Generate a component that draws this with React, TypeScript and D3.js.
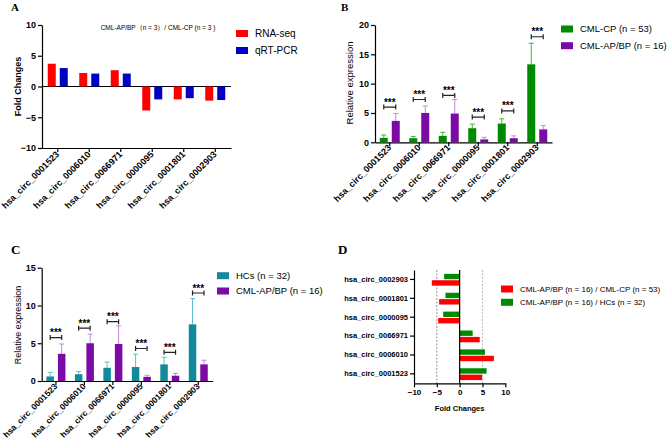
import * as d3 from "d3";
import React, { useEffect, useRef } from "react";

// circRNA names (left-to-right in A/B/C, bottom-to-top in D)
const circs = [
  "hsa_circ_0001523",
  "hsa_circ_0006010",
  "hsa_circ_0066971",
  "hsa_circ_0000095",
  "hsa_circ_0001801",
  "hsa_circ_0002903",
];

// A: fold changes
const rnaSeq = [3.7, 2.2, 2.65, -3.9, -2.1, -2.3];
const qrtPcr = [3.0, 2.1, 2.1, -2.1, -1.9, -2.2];
const foldTicks = [-10, -5, 0, 5, 10];

// B: CML-CP vs CML-AP/BP
const cpMean = [0.75, 0.7, 1.1, 2.4, 3.2, 13.3];
const cpSd = [0.5, 0.3, 0.6, 0.7, 0.8, 3.6];
const apMeanB = [3.65, 5.0, 4.9, 0.5, 0.7, 2.2];
const apSdB = [1.25, 1.2, 2.4, 0.35, 0.4, 0.65];
const bracketB = [6.0, 7.3, 8.0, 4.3, 5.35, 18.0];
const ticksB = [0, 5, 10, 15, 20];

// C: HCs vs CML-AP/BP
const hcMean = [0.6, 0.9, 1.75, 1.85, 2.2, 7.5];
const hcSd = [0.55, 0.35, 0.75, 1.7, 0.95, 3.4];
const apMeanC = [3.6, 5.0, 4.9, 0.55, 0.7, 2.2];
const apSdC = [1.3, 1.2, 2.4, 0.2, 0.3, 0.55];
const bracketC = [5.75, 7.0, 7.85, 4.3, 3.8, 11.65];
const ticksC = [0, 5, 10, 15];

// D: fold changes, horizontal
const vsCp = [4.9, 7.5, 4.4, -4.7, -4.5, -6.1];
const vsHc = [5.9, 5.55, 2.85, -3.6, -3.1, -3.4];
const ticksD = [-10, -5, 0, 5, 10];

const SANS = "'Liberation Sans', Arial, sans-serif";
const SERIF = "'Liberation Serif', 'Times New Roman', serif";

const RED = "#ff0000";
const BLUE = "#0000c4";
const GREEN = "#008a00";
const GREEN_ERR = "#3cb83c";
const PURPLE = "#7c0aa4";
const PURPLE_ERR = "#c584e6";
const TEAL = "#14899c";
const TEAL_ERR = "#5bbfcf";

const styleAxis = (g, fontSize, bold = true) => {
  g.selectAll("path, line").attr("stroke", "#000").attr("stroke-width", 1.2);
  g.selectAll("text")
    .attr("fill", "#000")
    .style("font-family", SANS)
    .style("font-size", fontSize + "px")
    .style("font-weight", bold ? "bold" : "normal");
};

// 45° category labels ending just under each tick
const rotatedLabels = (svg, x, yPos, size) => {
  svg
    .append("g")
    .selectAll("text")
    .data(circs)
    .enter()
    .append("text")
    .attr("transform", (d) => `translate(${x(d) + x.bandwidth() / 2 + 2},${yPos}) rotate(-45)`)
    .attr("text-anchor", "end")
    .style("font-family", SANS)
    .style("font-size", size + "px")
    .style("font-weight", "bold")
    .text((d) => d);
};

const legend = (svg, items, x, y0, step, size) => {
  items.forEach((it, i) => {
    const cy = y0 + i * step;
    svg
      .append("rect")
      .attr("x", x)
      .attr("y", cy - 3.5)
      .attr("width", 12)
      .attr("height", 7)
      .attr("fill", it.color);
    svg
      .append("text")
      .attr("x", x + 19)
      .attr("y", cy)
      .attr("dy", "0.35em")
      .style("font-family", SANS)
      .style("font-size", size + "px")
      .text(it.label);
  });
};

const panelLabel = (svg, txt, x, y, size) => {
  svg
    .append("text")
    .attr("x", x)
    .attr("y", y)
    .style("font-family", SERIF)
    .style("font-weight", "bold")
    .style("font-size", size + "px")
    .text(txt);
};

const drawA = (svg) => {
  const x = d3.scaleBand().domain(circs).range([42, 231]);
  const y = d3.scaleLinear().domain([-10, 10]).range([148, 25]);
  const c = (d) => x(d) + x.bandwidth() / 2;

  svg
    .append("g")
    .attr("transform", "translate(42,0)")
    .call(d3.axisLeft(y).tickValues(foldTicks).tickSize(4).tickSizeOuter(0).tickPadding(2))
    .call((g) => styleAxis(g, 9));

  svg
    .append("g")
    .attr("transform", `translate(0,${y(-10)})`)
    .call(d3.axisBottom(x).tickSize(4).tickSizeOuter(0).tickFormat(() => ""))
    .call((g) => styleAxis(g, 9));

  // zero line
  svg
    .append("line")
    .attr("x1", 42)
    .attr("x2", 231)
    .attr("y1", y(0))
    .attr("y2", y(0))
    .attr("stroke", "#000")
    .attr("stroke-width", 1.2);

  const bars = svg.append("g");
  circs.forEach((d, i) => {
    bars
      .append("rect")
      .attr("x", c(d) - 10)
      .attr("width", 8)
      .attr("y", y(Math.max(0, rnaSeq[i])))
      .attr("height", Math.abs(y(rnaSeq[i]) - y(0)))
      .attr("fill", RED);
    bars
      .append("rect")
      .attr("x", c(d) + 2)
      .attr("width", 8)
      .attr("y", y(Math.max(0, qrtPcr[i])))
      .attr("height", Math.abs(y(qrtPcr[i]) - y(0)))
      .attr("fill", BLUE);
  });

  rotatedLabels(svg, x, 155, 9);

  svg
    .append("text")
    .attr("transform", `translate(21,${y(0)}) rotate(-90)`)
    .attr("text-anchor", "middle")
    .style("font-family", SANS)
    .style("font-size", "9px")
    .style("font-weight", "bold")
    .text("Fold Changes");

  svg
    .append("text")
    .attr("x", 158)
    .attr("y", 29.5)
    .attr("text-anchor", "middle")
    .style("font-family", SANS)
    .style("font-size", "6.5px")
    .text("CML-AP/BP（n = 3）/ CML-CP (n = 3 )");

  legend(
    svg,
    [
      { label: "RNA-seq", color: RED },
      { label: "qRT-PCR", color: BLUE },
    ],
    236,
    33.5,
    17,
    10
  );

  panelLabel(svg, "A", 11, 11, 11);
};

const drawExpr = (svg, opts) => {
  const { x0, x1, yTop, yBot, max, ticks, m1, s1, m2, s2, br, c1, e1, c2, e2, bw, labelSize } = opts;
  const x = d3.scaleBand().domain(circs).range([x0, x1]);
  const y = d3.scaleLinear().domain([0, max]).range([yBot, yTop]);
  const c = (d) => x(d) + x.bandwidth() / 2;

  svg
    .append("g")
    .attr("transform", `translate(${x0},0)`)
    .call(d3.axisLeft(y).tickValues(ticks).tickSize(4).tickSizeOuter(0).tickPadding(2))
    .call((g) => styleAxis(g, 9));

  svg
    .append("g")
    .attr("transform", `translate(0,${yBot})`)
    .call(d3.axisBottom(x).tickSize(4).tickSizeOuter(0).tickFormat(() => ""))
    .call((g) => styleAxis(g, 9));

  const g = svg.append("g");
  const errBar = (cx, mean, sd, color) => {
    g.append("line")
      .attr("x1", cx)
      .attr("x2", cx)
      .attr("y1", y(mean))
      .attr("y2", y(mean + sd))
      .attr("stroke", color)
      .attr("stroke-width", 1);
    g.append("line")
      .attr("x1", cx - 2.5)
      .attr("x2", cx + 2.5)
      .attr("y1", y(mean + sd))
      .attr("y2", y(mean + sd))
      .attr("stroke", color)
      .attr("stroke-width", 1);
  };

  circs.forEach((d, i) => {
    const ax = c(d) - 2 - bw;
    const bx = c(d) + 2;
    errBar(ax + bw / 2, m1[i], s1[i], e1);
    errBar(bx + bw / 2, m2[i], s2[i], e2);
    g.append("rect")
      .attr("x", ax)
      .attr("width", bw)
      .attr("y", y(m1[i]))
      .attr("height", y(0) - y(m1[i]))
      .attr("fill", c1);
    g.append("rect")
      .attr("x", bx)
      .attr("width", bw)
      .attr("y", y(m2[i]))
      .attr("height", y(0) - y(m2[i]))
      .attr("fill", c2);

    // significance bracket
    const by = y(br[i]);
    const l = ax + bw / 2;
    const r = bx + bw / 2;
    g.append("path")
      .attr("d", `M${l},${by - 2.5}V${by + 2.5}M${l},${by}H${r}M${r},${by - 2.5}V${by + 2.5}`)
      .attr("fill", "none")
      .attr("stroke", "#222")
      .attr("stroke-width", 1.2);
    g.append("text")
      .attr("x", (l + r) / 2)
      .attr("y", by - 1.5)
      .attr("text-anchor", "middle")
      .style("font-family", SANS)
      .style("font-size", "10px")
      .style("font-weight", "bold")
      .text("***");
  });

  rotatedLabels(svg, x, yBot + 6, labelSize);
};

const drawB = (svg) => {
  drawExpr(svg, {
    x0: 375,
    x1: 552,
    yTop: 25,
    yBot: 142.3,
    max: 20,
    ticks: ticksB,
    m1: cpMean,
    s1: cpSd,
    m2: apMeanB,
    s2: apSdB,
    br: bracketB,
    c1: GREEN,
    e1: GREEN_ERR,
    c2: PURPLE,
    e2: PURPLE_ERR,
    bw: 8,
    labelSize: 9,
  });
  svg
    .append("text")
    .attr("transform", "translate(353,83) rotate(-90)")
    .attr("text-anchor", "middle")
    .style("font-family", SANS)
    .style("font-size", "9.5px")
    .text("Relative expression");
  legend(
    svg,
    [
      { label: "CML-CP (n = 53)", color: GREEN },
      { label: "CML-AP/BP (n = 16)", color: PURPLE },
    ],
    561,
    29,
    16.7,
    9.5
  );
  panelLabel(svg, "B", 341, 11, 11);
};

const drawC = (svg) => {
  drawExpr(svg, {
    x0: 41.7,
    x1: 212.5,
    yTop: 267.7,
    yBot: 381,
    max: 15,
    ticks: ticksC,
    m1: hcMean,
    s1: hcSd,
    m2: apMeanC,
    s2: apSdC,
    br: bracketC,
    c1: TEAL,
    e1: TEAL_ERR,
    c2: PURPLE,
    e2: PURPLE_ERR,
    bw: 7.5,
    labelSize: 8.5,
  });
  svg
    .append("text")
    .attr("transform", "translate(21,325) rotate(-90)")
    .attr("text-anchor", "middle")
    .style("font-family", SANS)
    .style("font-size", "9px")
    .text("Relative expression");
  legend(
    svg,
    [
      { label: "HCs (n = 32)", color: TEAL },
      { label: "CML-AP/BP (n = 16)", color: PURPLE },
    ],
    217,
    275.7,
    15.3,
    9.5
  );
  panelLabel(svg, "C", 11, 254, 13);
};

const drawD = (svg) => {
  const x = d3.scaleLinear().domain([-10, 10]).range([414, 505.3]);
  const y = d3.scaleBand().domain(circs.slice().reverse()).range([270, 383.3]);
  const c = (d) => y(d) + y.bandwidth() / 2;

  // dashed reference lines at ±5
  [-5, 5].forEach((v) => {
    svg
      .append("line")
      .attr("x1", x(v))
      .attr("x2", x(v))
      .attr("y1", 270)
      .attr("y2", 383.3)
      .attr("stroke", v < 0 ? "#777" : "#aaa")
      .attr("stroke-width", 0.8)
      .attr("stroke-dasharray", "2,1.5");
  });

  const g = svg.append("g");
  circs.forEach((d, i) => {
    g.append("rect")
      .attr("x", x(Math.min(0, vsHc[i])))
      .attr("width", Math.abs(x(vsHc[i]) - x(0)))
      .attr("y", c(d) - 5.6)
      .attr("height", 5.4)
      .attr("fill", GREEN);
    g.append("rect")
      .attr("x", x(Math.min(0, vsCp[i])))
      .attr("width", Math.abs(x(vsCp[i]) - x(0)))
      .attr("y", c(d) + 0.8)
      .attr("height", 5.4)
      .attr("fill", RED);
  });

  svg
    .append("line")
    .attr("x1", x(0))
    .attr("x2", x(0))
    .attr("y1", 270)
    .attr("y2", 383.3)
    .attr("stroke", "#000")
    .attr("stroke-width", 1.2);

  svg
    .append("g")
    .attr("transform", "translate(414,0)")
    .call(d3.axisLeft(y).tickSize(4).tickSizeOuter(0).tickPadding(2))
    .call((g) => styleAxis(g, 7.5));

  svg
    .append("g")
    .attr("transform", "translate(0,383.3)")
    .call(d3.axisBottom(x).tickValues(ticksD).tickSize(4).tickSizeOuter(0).tickPadding(2))
    .call((g) => styleAxis(g, 8));

  svg
    .append("text")
    .attr("x", x(0))
    .attr("y", 411)
    .attr("text-anchor", "middle")
    .style("font-family", SANS)
    .style("font-size", "7.5px")
    .style("font-weight", "bold")
    .text("Fold Changes");

  legend(
    svg,
    [
      { label: "CML-AP/BP (n = 16) / CML-CP (n = 53)", color: RED },
      { label: "CML-AP/BP (n = 16) / HCs (n = 32)", color: GREEN },
    ],
    501,
    289,
    13.3,
    8
  );
  panelLabel(svg, "D", 338, 254, 13);
};

const App = () => {
  const ref = useRef(null);

  useEffect(() => {
    document.body.style.margin = "0";
    const svg = d3.select(ref.current);
    svg.selectAll("*").remove();
    svg.append("rect").attr("width", 669).attr("height", 446).attr("fill", "#fff");
    drawA(svg);
    drawB(svg);
    drawC(svg);
    drawD(svg);
  }, []);

  return <svg ref={ref} width={669} height={446} style={{ display: "block" }} />;
};

export default App;
